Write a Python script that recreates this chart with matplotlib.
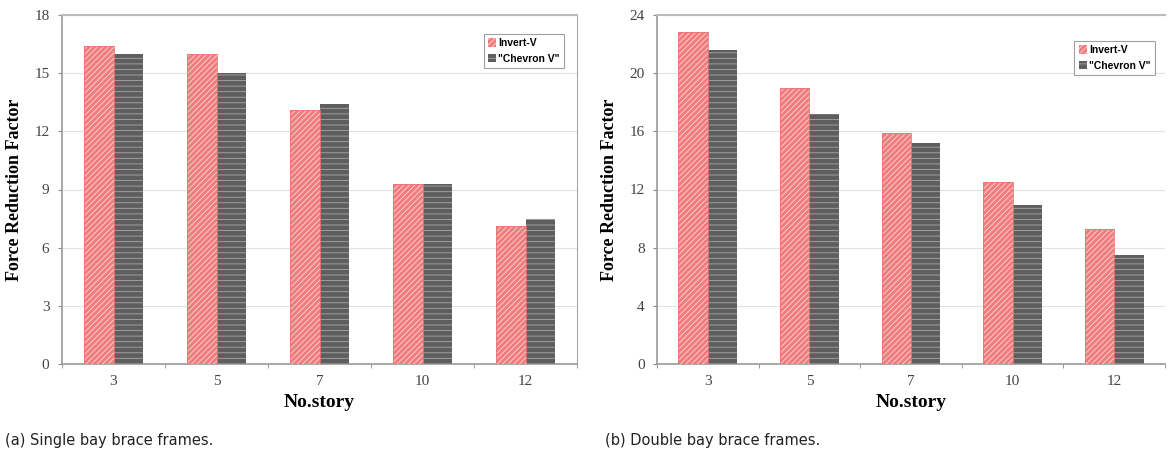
import numpy as np
import matplotlib.pyplot as plt

plt.rcParams['hatch.linewidth'] = 0.6

stories = ['3', '5', '7', '10', '12']

# (a) single bay
single_invert_v = [16.4, 16.0, 13.1, 9.3, 7.1]
single_chevron = [16.0, 15.0, 13.4, 9.3, 7.5]
single_yticks = [0, 3, 6, 9, 12, 15, 18]

# (b) double bay
double_invert_v = [22.8, 19.0, 15.9, 12.5, 9.3]
double_chevron = [21.6, 17.2, 15.2, 10.9, 7.5]
double_yticks = [0, 4, 8, 12, 16, 20, 24]

fig = plt.figure(figsize=(11.68, 4.55), dpi=100)
ax1 = fig.add_axes([62 / 1168, 1 - 364 / 455, 515 / 1168, 349 / 455])
ax2 = fig.add_axes([657 / 1168, 1 - 364 / 455, 508 / 1168, 349 / 455])


def draw(ax, red, dark, yticks, legend_box):
    x = np.arange(len(stories))
    w = 0.29
    b1 = ax.bar(x - w / 2, red, w, color='#f07d7d', edgecolor='#fbd6d6',
                linewidth=0, hatch='//////', label='Invert-V', zorder=3)
    ax.bar(x - w / 2, red, w, facecolor='none', edgecolor='#ee7373',
           linewidth=0.6, zorder=4)
    ax.bar(x + w / 2, dark, w, color='#5e5e5e', edgecolor='#a8a8a8',
           linewidth=0, hatch='---', label='"Chevron V"', zorder=3)
    ax.set_xlim(-0.5, len(stories) - 0.5)
    ax.set_ylim(yticks[0], yticks[-1])
    ax.set_yticks(yticks)
    ax.set_yticklabels([str(t) for t in yticks], family='Liberation Serif',
                       fontsize=11, color='#444444')
    ax.set_xticks(x)
    ax.set_xticklabels(stories, family='Liberation Serif', fontsize=11,
                       color='#444444')
    ax.set_xticks(np.arange(len(stories) + 1) - 0.5, minor=True)
    ax.tick_params(axis='x', which='major', length=0, pad=8)
    ax.tick_params(axis='x', which='minor', length=3, color='#888888')
    ax.tick_params(axis='y', length=3, color='#888888', pad=6)
    ax.grid(axis='y', color='#e2e2e2', linewidth=0.8, zorder=0)
    for s in ['left', 'bottom']:
        ax.spines[s].set_color('#999999')
        ax.spines[s].set_linewidth(1.2)
    ax.spines['right'].set_color('#aaaaaa')
    ax.spines['top'].set_color('#bbbbbb')
    ax.spines['top'].set_linewidth(1.5)
    ax.set_ylabel('Force Reduction Factor', family='Liberation Serif',
                  fontweight='bold', fontsize=13, labelpad=8)
    ax.set_xlabel('No.story', family='Liberation Serif', fontweight='bold',
                  fontsize=14, labelpad=4)
    leg = ax.legend(loc='upper right', bbox_to_anchor=legend_box,
                    prop={'family': 'Liberation Sans', 'weight': 'bold',
                          'size': 7.5},
                    frameon=True, fancybox=False, handlelength=0.8,
                    handleheight=0.9, handletextpad=0.2, borderpad=0.4,
                    labelspacing=0.5)
    leg.get_frame().set_edgecolor('#888888')
    leg.get_frame().set_linewidth(0.8)


draw(ax1, single_invert_v, single_chevron, single_yticks, (0.985, 0.96))
draw(ax2, double_invert_v, double_chevron, double_yticks, (0.99, 0.94))
ax2.spines['right'].set_visible(False)

fig.text(5 / 1168, 1 - 440 / 455, '(a) Single bay brace frames.',
         family='Liberation Sans Narrow', fontsize=10.5, va='center',
         color='#222222')
fig.text(605 / 1168, 1 - 440 / 455, '(b) Double bay brace frames.',
         family='Liberation Sans Narrow', fontsize=10.5, va='center',
         color='#222222')

fig.savefig('out.png', dpi=100)
